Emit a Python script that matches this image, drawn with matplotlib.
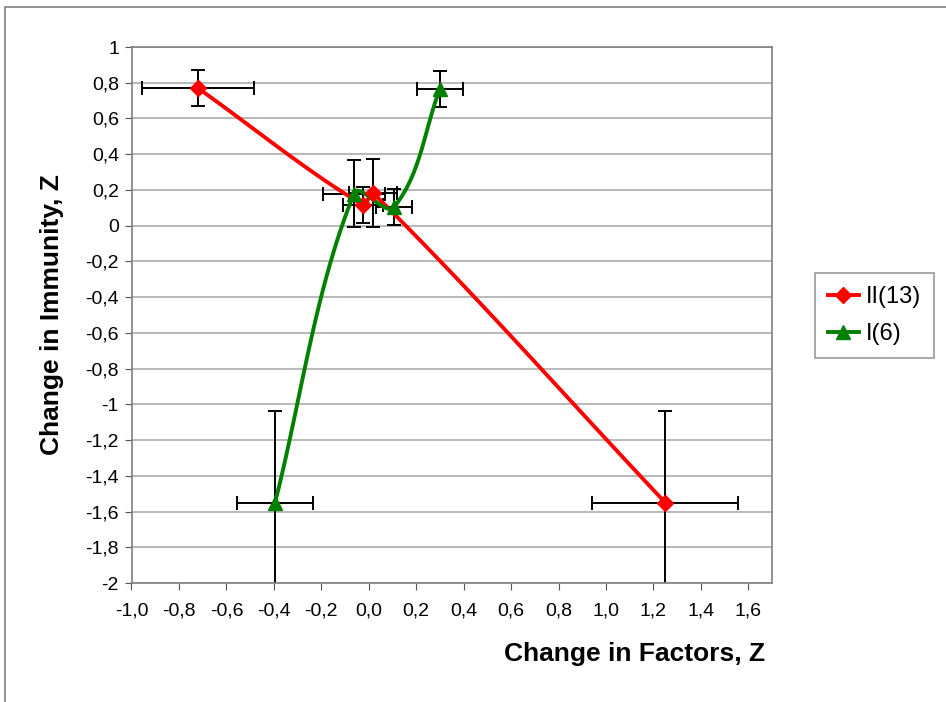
import numpy as np
import matplotlib
matplotlib.use("Agg")
import matplotlib.pyplot as plt
from matplotlib.patches import Rectangle
from matplotlib.ticker import FuncFormatter, MultipleLocator

plt.rcParams['font.family'] = ['Liberation Sans', 'DejaVu Sans']

# group II (13)
x_ii = [-0.72, -0.024, 0.018, 1.25]
y_ii = [0.77, 0.116, 0.183, -1.55]
xerr_ii = [0.237, 0.085, 0.10, 0.307]
yerr_ii = [0.10, 0.10, 0.19, 0.51]

# group I (6)
x_i = [-0.395, -0.062, 0.107, 0.30]
y_i = [-1.55, 0.18, 0.105, 0.765]
xerr_i = [0.16, 0.13, 0.075, 0.097]
yerr_i = [0.51, 0.19, 0.10, 0.10]

# rough pixels per unit on each axis, so the smoothing works in screen space
SX, SY = 237.0, 179.0


def smooth(xs, ys, n=40):
    # cubic Bezier through the points; handle length follows the segment length
    p = np.column_stack([np.asarray(xs) * SX, np.asarray(ys) * SY])
    m = len(p)
    tang = []
    for i in range(m):
        d = p[min(i + 1, m - 1)] - p[max(i - 1, 0)]
        tang.append(d / np.linalg.norm(d))
    out = []
    for i in range(m - 1):
        p1, p2 = p[i], p[i + 1]
        L = np.linalg.norm(p2 - p1)
        c1 = p1 + tang[i] * L / 3
        c2 = p2 - tang[i + 1] * L / 3
        t = np.linspace(0, 1, n)[:, None]
        seg = ((1 - t) ** 3) * p1 + 3 * ((1 - t) ** 2) * t * c1 + 3 * (1 - t) * t ** 2 * c2 + t ** 3 * p2
        out.append(seg if i == 0 else seg[1:])
    seg = np.vstack(out)
    return seg[:, 0] / SX, seg[:, 1] / SY


def comma(v, decimals):
    if decimals is None:
        s = f"{v:.1f}".rstrip('0').rstrip('.')
    else:
        s = f"{v:.{decimals}f}"
    if s in ("-0", "-0.0"):
        s = s[1:]
    return s.replace('.', ',')


fig = plt.figure(figsize=(9.46, 7.02), dpi=100)
ax = fig.add_axes([131.5 / 946, 1 - 583 / 702, 640.5 / 946, 536 / 702])

red = '#ff0000'
green = '#008000'

for xs, ys, xe, ye in [(x_ii, y_ii, xerr_ii, yerr_ii), (x_i, y_i, xerr_i, yerr_i)]:
    ax.errorbar(xs, ys, xerr=xe, yerr=ye, fmt='none', ecolor='black',
                elinewidth=1.4, capsize=5, capthick=1.4, zorder=2)

sx, sy = smooth(x_ii, y_ii)
ax.plot(sx, sy, color=red, lw=2.8, zorder=3)
ax.plot(x_ii, y_ii, ls='none', marker='D', ms=8, color=red, zorder=4)
sx, sy = smooth(x_i, y_i)
ax.plot(sx, sy, color=green, lw=2.8, zorder=3)
ax.plot(x_i, y_i, ls='none', marker='^', ms=10, color=green, zorder=4)

ax.set_xlim(-1.0, 1.7)
ax.set_ylim(-2.0, 1.0)
ax.xaxis.set_major_locator(MultipleLocator(0.2))
ax.yaxis.set_major_locator(MultipleLocator(0.2))
ax.xaxis.set_major_formatter(FuncFormatter(lambda v, pos: comma(v, 1) if v < 1.65 else ''))
ax.yaxis.set_major_formatter(FuncFormatter(lambda v, pos: comma(v, None)))
ax.yaxis.grid(True, color='#a6a6a6', lw=1.1)
ax.set_axisbelow(True)
for s in ax.spines.values():
    s.set_color('#808080')
    s.set_linewidth(1.2)
ax.tick_params(axis='both', direction='out', length=5, color='#555555', labelsize=14)
ax.tick_params(axis='x', pad=9)
ax.tick_params(axis='y', pad=4)

ax.set_xlabel('Change in Factors, Z', fontsize=19, fontweight='bold')
ax.xaxis.set_label_coords(0.786, -0.11)
ax.set_ylabel('Change in Immunity, Z', fontsize=19, fontweight='bold')
ax.yaxis.set_label_coords(-0.106, 0.5)

handles = [
    plt.Line2D([], [], color=red, lw=2.8, marker='D', ms=8),
    plt.Line2D([], [], color=green, lw=2.8, marker='^', ms=10),
]
leg = fig.legend(handles, ['II(13)', 'I(6)'], loc='upper left',
                 bbox_to_anchor=(815 / 946, 1 - 273 / 702), borderaxespad=0,
                 fontsize=17, frameon=True, fancybox=False, handlelength=1.3,
                 labelspacing=0.65, borderpad=0.55, handletextpad=0.3)
leg.get_frame().set_edgecolor('#808080')
leg.get_frame().set_linewidth(1.2)

fig.add_artist(Rectangle((4.5 / 946, -0.1), 1.2, 1.1 - 7 / 702, transform=fig.transFigure,
                         fill=False, edgecolor='#808080', lw=1.2))

fig.savefig('out.png', dpi=100)
